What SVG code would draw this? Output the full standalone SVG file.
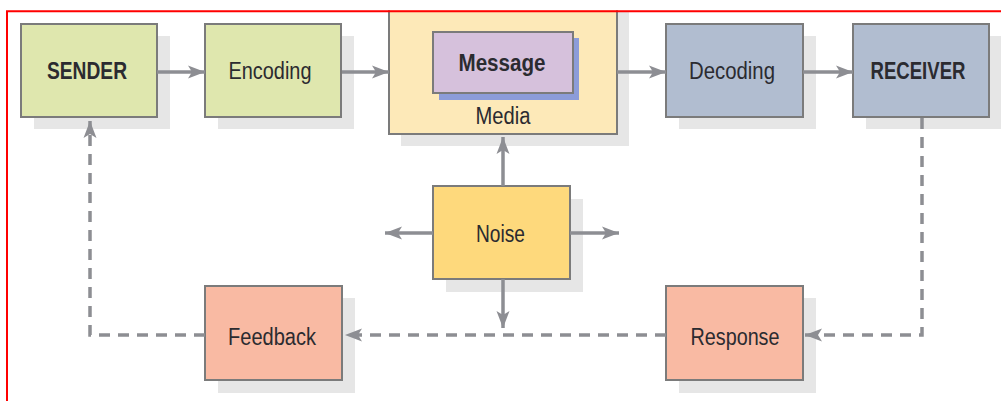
<svg xmlns="http://www.w3.org/2000/svg" width="1001" height="401" viewBox="0 0 1001 401">
<defs>
<style>
.sh{fill:#e6e6e6}
.box{stroke:#7b7b7b;stroke-width:2}
.g{fill:#dfe7ae}
.b{fill:#b1bdd0}
.s{fill:#f9baa3}
.lbl{font-family:"Liberation Sans",Arial,sans-serif;font-size:23px;fill:#2b2b30;text-anchor:middle}
.bold{font-weight:bold}
.c{fill:none;stroke:#8d8e93;stroke-width:3.5}
.d{stroke-dasharray:11 8}
</style>
<marker id="ah" markerUnits="userSpaceOnUse" markerWidth="24" markerHeight="18" viewBox="-20 -9 24 18" refX="0" refY="0" orient="auto">
<path d="M0,0 L-17,-6.5 L-13,0 L-17,6.5 Z" fill="#8d8e93"/>
</marker>
</defs>
<rect width="1001" height="401" fill="#fff"/>

<g id="sender">
<rect class="sh" x="34" y="36" width="136" height="93"/>
<rect class="box g" x="21" y="24" width="136" height="93"/>
<text class="lbl bold" x="87" y="78.5" textLength="80" lengthAdjust="spacingAndGlyphs">SENDER</text>
</g>
<g id="encoding">
<rect class="sh" x="218" y="36" width="136" height="93"/>
<rect class="box g" x="205" y="24" width="136" height="93"/>
<text class="lbl" x="270" y="78.5" textLength="83" lengthAdjust="spacingAndGlyphs">Encoding</text>
</g>
<g id="media">
<rect class="sh" x="401" y="12" width="228" height="134"/>
<rect class="box" fill="#fde9b8" x="389" y="0" width="228" height="134"/>
<text class="lbl" x="503" y="123.5" textLength="55" lengthAdjust="spacingAndGlyphs">Media</text>
</g>
<g id="message">
<rect fill="#8c9cd9" x="439" y="38" width="140" height="62"/>
<rect class="box" fill="#d6c1dc" x="433" y="32" width="140" height="61"/>
<text class="lbl bold" x="502" y="71" textLength="87" lengthAdjust="spacingAndGlyphs">Message</text>
</g>
<g id="decoding">
<rect class="sh" x="679" y="36" width="137" height="93"/>
<rect class="box b" x="666" y="24" width="137" height="93"/>
<text class="lbl" x="732" y="78.5" textLength="86" lengthAdjust="spacingAndGlyphs">Decoding</text>
</g>
<g id="receiver">
<rect class="sh" x="866" y="36" width="136" height="93"/>
<rect class="box b" x="853" y="24" width="136" height="93"/>
<text class="lbl bold" x="918" y="78.5" textLength="95" lengthAdjust="spacingAndGlyphs">RECEIVER</text>
</g>
<g id="noise">
<rect class="sh" x="446" y="199" width="137" height="93"/>
<rect class="box" fill="#fed97c" x="433" y="186" width="137" height="93"/>
<text class="lbl" x="500.5" y="242" textLength="49" lengthAdjust="spacingAndGlyphs">Noise</text>
</g>
<g id="feedback">
<rect class="sh" x="218" y="298" width="137" height="95"/>
<rect class="box s" x="205" y="286" width="137" height="94"/>
<text class="lbl" x="272" y="344.5" textLength="88" lengthAdjust="spacingAndGlyphs">Feedback</text>
</g>
<g id="response">
<rect class="sh" x="679" y="298" width="137" height="95"/>
<rect class="box s" x="666" y="286" width="137" height="94"/>
<text class="lbl" x="735" y="344.5" textLength="89" lengthAdjust="spacingAndGlyphs">Response</text>
</g>

<g id="connectors">
<path class="c" d="M157,72 H205" marker-end="url(#ah)"/>
<path class="c" d="M342,72 H389" marker-end="url(#ah)"/>
<path class="c" d="M617,72 H666" marker-end="url(#ah)"/>
<path class="c" d="M803,72 H853" marker-end="url(#ah)"/>
<path class="c" d="M503,186 V137" marker-end="url(#ah)"/>
<path class="c" d="M433,233 H385" marker-end="url(#ah)"/>
<path class="c" d="M570,233 H619" marker-end="url(#ah)"/>
<path class="c" d="M503,279 V328" marker-end="url(#ah)"/>
<path class="c d" d="M922,118 V335 H805" marker-end="url(#ah)"/>
<path class="c d" d="M666,335 H345" marker-end="url(#ah)"/>
<path class="c d" d="M205,335 H90 V121" marker-end="url(#ah)"/>
</g>

<rect x="0" y="0" width="1001" height="10.3" fill="#fff"/>
<path d="M7,401 V11.3 H1001" fill="none" stroke="#ff0000" stroke-width="2"/>
</svg>
